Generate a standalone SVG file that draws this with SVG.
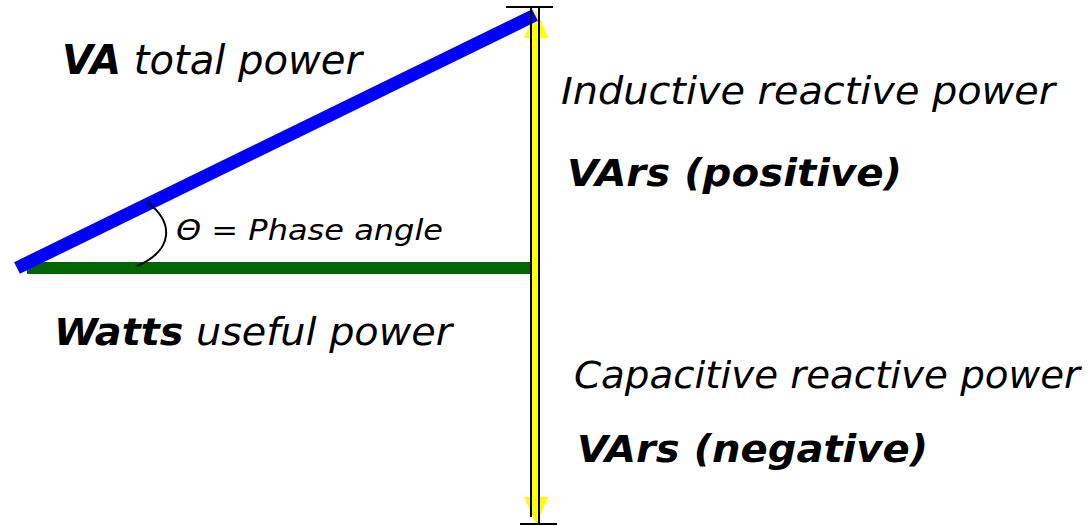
<svg xmlns="http://www.w3.org/2000/svg" width="1091" height="526" viewBox="0 0 1091 526">
<style>
.t{font-family:"DejaVu Sans Condensed","DejaVu Sans",sans-serif;font-style:italic;fill:#000}
.b{font-weight:bold}
</style>
<rect width="1091" height="526" fill="#fff"/>
<g id="connectors">
  <g id="vars-arrow">
    <rect x="532" y="36" width="7" height="463" fill="#ffff00"/>
    <polygon points="536,10 548,38 524,38" fill="#ffff00"/>
    <polygon points="524,497 548,497 536,524" fill="#ffff00"/>
  </g>
  <line id="watts" x1="27" y1="268" x2="532" y2="268" stroke="#006600" stroke-width="12"/>
  <line id="va" x1="17" y1="268" x2="535" y2="15" stroke="#0000ff" stroke-width="13"/>
  <g id="axis" stroke="#000" stroke-width="2" fill="none">
    <line x1="506" y1="7" x2="553" y2="7"/>
    <line x1="531" y1="7" x2="531" y2="517"/>
    <line x1="539" y1="7" x2="539" y2="523"/>
    <line x1="520" y1="524" x2="557" y2="524"/>
  </g>
  <path id="angle-arc" d="M147,202 C174,222 174,250 137,266" fill="none" stroke="#000" stroke-width="2"/>
</g>
<g id="label-va"><text class="t" x="62" y="74" font-size="41" textLength="300" lengthAdjust="spacingAndGlyphs"><tspan class="b">VA</tspan> total power</text></g>
<g id="label-inductive"><text class="t" x="561" y="104" font-size="37" textLength="494" lengthAdjust="spacingAndGlyphs">Inductive reactive power</text></g>
<g id="label-vars-pos"><text class="t b" x="567" y="186" font-size="37" textLength="335" lengthAdjust="spacingAndGlyphs">VArs (positive)</text></g>
<g id="label-angle"><text class="t" x="176" y="240" font-size="29" textLength="267" lengthAdjust="spacingAndGlyphs">Θ = Phase angle</text></g>
<g id="label-watts"><text class="t" x="54" y="345" font-size="37" textLength="398" lengthAdjust="spacingAndGlyphs"><tspan class="b">Watts</tspan> useful power</text></g>
<g id="label-capacitive"><text class="t" x="574" y="388" font-size="38" textLength="506" lengthAdjust="spacingAndGlyphs">Capacitive reactive power</text></g>
<g id="label-vars-neg"><text class="t b" x="577" y="462" font-size="37" textLength="351" lengthAdjust="spacingAndGlyphs">VArs (negative)</text></g>
</svg>
